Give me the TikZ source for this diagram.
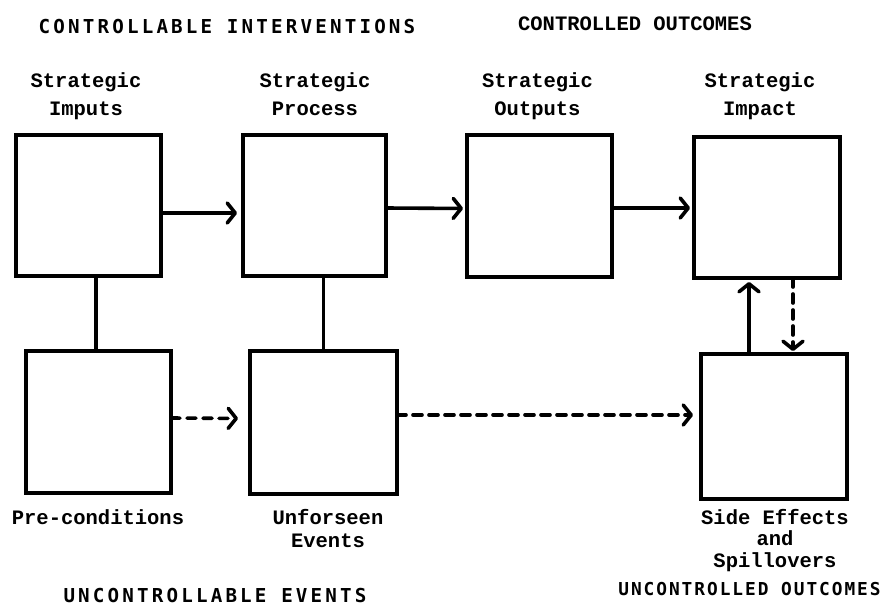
\documentclass[tikz,border=0pt]{standalone}
\usepackage{fontspec}
\setmainfont{Liberation Mono}
\newfontfamily\capsA[LetterSpace=16.5]{DejaVu Sans Mono}
\newfontfamily\capsB[LetterSpace=11]{DejaVu Sans Mono}
\usetikzlibrary{arrows.meta,calc}

\begin{document}
\begin{tikzpicture}[x=1pt,y=-1pt,
  box/.style={draw, line width=3.6pt, inner sep=0pt, outer sep=0pt},
  arr/.style={line width=3.6pt, line cap=round,
    -{Straight Barb[length=8pt,width=20pt,round]}},
  dsh/.style={arr, dash pattern=on 9pt off 7pt},
  lbl/.style={inner sep=0pt, align=center, anchor=base,
    font=\bfseries\fontsize{20.5}{28}\selectfont},
  hdr/.style={inner sep=0pt, anchor=base}]

\useasboundingbox (0,0) rectangle (887,608);

% boxes
\node[box, minimum width=145pt, minimum height=141pt] (imp)  at (88.5,205.5) {};
\node[box, minimum width=143pt, minimum height=141pt] (proc) at (314.5,205.5) {};
\node[box, minimum width=145pt, minimum height=142pt] (out)  at (539.5,206) {};
\node[box, minimum width=146pt, minimum height=141pt] (impc) at (767,207.5) {};
\node[box, minimum width=145pt, minimum height=142pt] (pre)  at (98.5,422) {};
\node[box, minimum width=147pt, minimum height=143pt] (unf)  at (323.5,422.5) {};
\node[box, minimum width=146pt, minimum height=145pt] (side) at (774,426.5) {};

% headings
\node[hdr, font=\capsA\bfseries\fontsize{19.2}{22}\selectfont] (h1) at (227,33) {CONTROLLABLE INTERVENTIONS};
\node[hdr, font=\bfseries\fontsize{20.5}{22}\selectfont] (h2) at (635,30) {CONTROLLED OUTCOMES};
\node[hdr, font=\capsA\bfseries\fontsize{19.2}{22}\selectfont] (h3) at (215,602) {UNCONTROLLABLE EVENTS};
\node[hdr, font=\capsB\bfseries\fontsize{17.8}{22}\selectfont] (h4) at (749.5,595) {UNCONTROLLED OUTCOMES};

% box labels (anchored at the baseline of their last line)
\node[lbl] (limp)  at (86,115)    {Strategic\\Imputs};
\node[lbl] (lproc) at (315,115)   {Strategic\\Process};
\node[lbl] (lout)  at (537.5,115) {Strategic\\Outputs};
\node[lbl] (limpc) at (760,115)   {Strategic\\Impact};
\node[lbl] (lpre)  at (98,524)    {Pre-conditions};
\node[lbl, font=\bfseries\fontsize{20.5}{23}\selectfont] (lunf) at (328,547) {Unforseen\\Events};
\node[lbl, font=\bfseries\fontsize{20.5}{21.5}\selectfont] (lside) at (775,567) {Side Effects\\and\\Spillovers};

% plain links
\draw[line width=3.6pt] (imp.south -| 96,0) -- (pre.north -| 96,0);
\draw[line width=3.6pt] (proc.south -| unf.north) -- (unf.north);

% solid arrows
\draw[arr, shorten >=6pt] ($(imp.east)+(0,7.5)$) -- ($(proc.west)+(0,7.5)$);
\draw[arr, shorten >=4pt] ($(proc.east)+(0,2.5)$) -- ($(out.west)+(0,2.5)$);
\draw[arr, shorten >=4pt] ($(out.east)+(0,2)$) -- ($(impc.west)+(0,0.5)$);
\draw[arr, shorten >=4pt] ($(side.north)+(-25,0)$) -- ($(impc.south)+(-18,0)$);

% dashed arrows
\draw[dsh, shorten >=12pt] ($(pre.east)+(0,-4)$) -- ($(unf.west)+(0,-4)$);
\draw[dsh, shorten >=8pt] ($(unf.east)+(0,-7.5)$) -- ($(side.west)+(0,-11.5)$);
\draw[dsh, shorten >=3pt] ($(impc.south)+(26,0)$) -- ($(side.north)+(19,0)$);

\end{tikzpicture}
\end{document}
